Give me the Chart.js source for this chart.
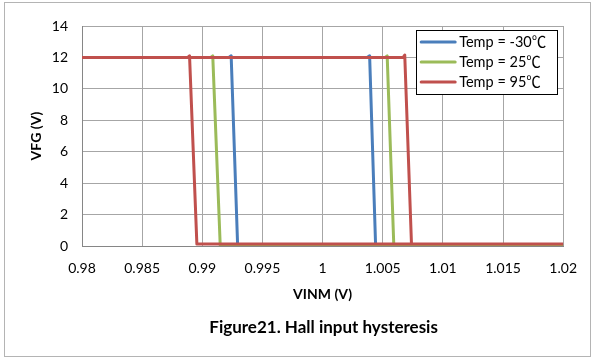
<!DOCTYPE html>
<html>
<head>
<meta charset="utf-8">
<script src="https://cdn.jsdelivr.net/npm/chart.js@4"></script>
<style>
  html, body { margin: 0; padding: 0; background: #fff; }
  #wrap { width: 591px; height: 358px; position: relative; }
</style>
</head>
<body>
<div id="wrap"><canvas id="hysteresis-chart"></canvas></div>
<script>
// VFG output vs VINM sweep, one up/down sweep per temperature (null splits the two sweeps)
const vinmCold = [0.98, 0.9922, 0.9924, 0.99294, 1.02, null, 0.98, 1.0037, 1.00391, 1.00441, 1.02];
const vfgCold  = [12, 12, 12.1, 0, 0, null, 12, 12, 12.1, 0, 0];

const vinmRoom = [0.98, 0.9907, 0.99087, 0.99149, 1.02, null, 0.98, 1.0052, 1.00537, 1.00592, 1.02];
const vfgRoom  = [12, 12, 12.1, 0.05, 0.05, null, 12, 12, 12.1, 0.05, 0.05];

const vinmHot = [0.98, 0.9888, 0.98894, 0.98955, 1.02, null, 0.98, 1.0067, 1.00683, 1.00739, 1.02];
const vfgHot  = [12, 12, 12.1, 0.12, 0.12, null, 12, 12, 12.15, 0.12, 0.12];

const seriesLabels = ['Temp = -30\u2103', 'Temp = 25\u2103', 'Temp = 95\u2103'];
const seriesColors = ['#4a7ebb', '#9bbb59', '#c0504d'];
const xTickLabels = ['0.98', '0.985', '0.99', '0.995', '1', '1.005', '1.01', '1.015', '1.02'];
const yTickLabels = ['0', '2', '4', '6', '8', '10', '12', '14'];

const FONT = "Lato, 'Noto Sans CJK SC', 'DejaVu Sans', sans-serif";

function toPoints(xs, ys) {
  return xs.map((x, i) => ({ x: x, y: ys[i] }));
}

// Light grey frame around the whole figure
const framePlugin = {
  id: 'frame',
  beforeDraw(chart) {
    const ctx = chart.ctx;
    ctx.save();
    ctx.strokeStyle = '#b4b4b4';
    ctx.lineWidth = 1;
    ctx.strokeRect(4.5, 2.5, 586, 354);
    ctx.restore();
  },
};

// Boxed legend inside the top-right corner of the plot, plus the caption below
const legendBoxPlugin = {
  id: 'legendBox',
  afterDraw(chart) {
    const ctx = chart.ctx;
    const area = chart.chartArea;
    const w = 141, h = 64;
    const left = area.right - 6 - w;
    const top = area.top + 4;
    ctx.save();
    ctx.fillStyle = '#fff';
    ctx.fillRect(left, top, w, h);
    ctx.strokeStyle = '#000';
    ctx.lineWidth = 1;
    ctx.strokeRect(Math.round(left) + 0.5, Math.round(top) + 0.5, w, h);
    ctx.font = '14.5px ' + FONT;
    ctx.textBaseline = 'middle';
    ctx.textAlign = 'left';
    chart.data.datasets.forEach((ds, i) => {
      const y = top + 12 + i * 20;
      ctx.strokeStyle = ds.borderColor;
      ctx.lineWidth = 3;
      ctx.lineCap = 'round';
      ctx.beginPath();
      ctx.moveTo(left + 5, y);
      ctx.lineTo(left + 39, y);
      ctx.stroke();
      ctx.fillStyle = '#000';
      ctx.fillText(ds.label, left + 43, y);
    });

    ctx.font = 'bold 17px ' + FONT;
    ctx.textAlign = 'center';
    ctx.fillText('Figure21. Hall input hysteresis', (area.left + area.right) / 2 + 1, 328);
    ctx.restore();
  },
};

const datasets = [
  { label: seriesLabels[0], data: toPoints(vinmCold, vfgCold), borderColor: seriesColors[0], order: 2 },
  { label: seriesLabels[1], data: toPoints(vinmRoom, vfgRoom), borderColor: seriesColors[1], order: 1 },
  { label: seriesLabels[2], data: toPoints(vinmHot, vfgHot), borderColor: seriesColors[2], order: 0 },
].map(ds => Object.assign(ds, {
  showLine: true,
  borderWidth: 3,
  pointRadius: 0,
  tension: 0,
  spanGaps: false,
  borderJoinStyle: 'round',
  borderCapStyle: 'round',
}));

new Chart(document.getElementById('hysteresis-chart'), {
  type: 'scatter',
  data: { datasets: datasets },
  plugins: [framePlugin, legendBoxPlugin],
  options: {
    responsive: true,
    maintainAspectRatio: false,
    animation: false,
    layout: { padding: { top: 26, right: 26, left: 0, bottom: 52 } },
    plugins: {
      legend: { display: false },
      tooltip: { enabled: false },
    },
    scales: {
      x: {
        type: 'linear',
        min: 0.98,
        max: 1.02,
        afterFit(scale) { scale.height = 60; },
        ticks: {
          stepSize: 0.005,
          padding: 14,
          color: '#000',
          font: { family: FONT, size: 14 },
          callback: (value, index) => xTickLabels[index],
        },
        grid: { color: '#a6a6a6', lineWidth: 1, drawTicks: false },
        border: { color: '#868686', width: 1 },
        title: {
          display: true,
          text: 'VINM (V)',
          color: '#000',
          font: { family: FONT, size: 14, weight: 'bold' },
          padding: { top: 0, bottom: 3 },
        },
      },
      y: {
        min: 0,
        max: 14,
        afterFit(scale) { scale.width = 82; },
        ticks: {
          stepSize: 2,
          padding: 14,
          color: '#000',
          font: { family: FONT, size: 14 },
          callback: (value, index) => yTickLabels[index],
        },
        grid: { color: '#a6a6a6', lineWidth: 1, drawTicks: false },
        border: { color: '#868686', width: 1 },
        title: {
          display: true,
          text: 'VFG (V)',
          color: '#000',
          font: { family: FONT, size: 14, weight: 'bold' },
          padding: { top: 28, bottom: 0 },
        },
      },
    },
  },
});
</script>
</body>
</html>
